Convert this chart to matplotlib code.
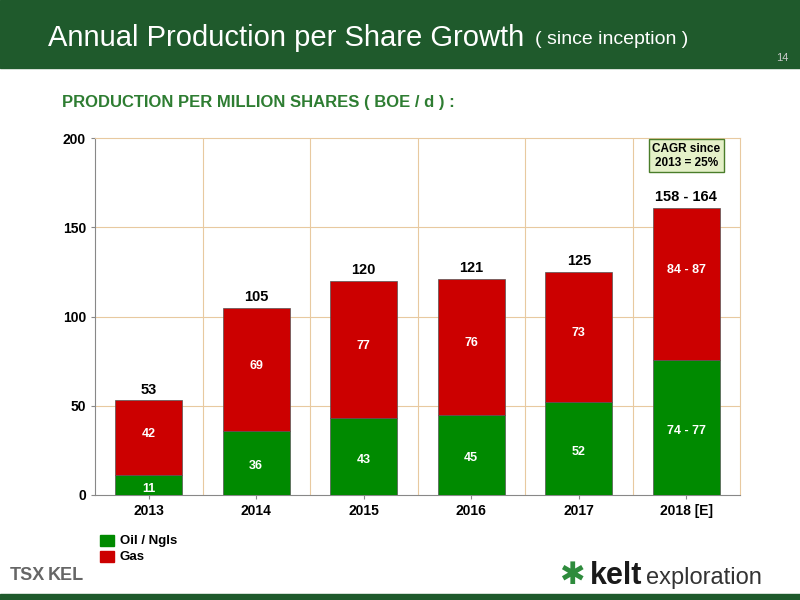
import matplotlib
matplotlib.use("Agg")
import matplotlib.pyplot as plt
from matplotlib.patches import Rectangle

years = ["2013", "2014", "2015", "2016", "2017", "2018 [E]"]
oil = [11, 36, 43, 45, 52, 75.5]
gas = [42, 69, 77, 76, 73, 85.5]
oil_labels = ["11", "36", "43", "45", "52", "74 - 77"]
gas_labels = ["42", "69", "77", "76", "73", "84 - 87"]
tot_labels = ["53", "105", "120", "121", "125", "158 - 164"]

GREEN = "#008a00"
RED = "#cc0000"
plt.rcParams['font.family'] = ['Liberation Sans', 'DejaVu Sans']

fig = plt.figure(figsize=(8, 6), dpi=100)
fig.patch.set_facecolor("white")
fig.add_artist(Rectangle((0, 1 - 68/600), 1, 68/600, transform=fig.transFigure, color="#1f5a2c", zorder=0))
fig.add_artist(Rectangle((0, 0), 1, 6/600, transform=fig.transFigure, color="#1f5a2c", zorder=0))
fig.text(48/800, 1 - 38/600, "Annual Production per Share Growth", color="white", fontsize=21, va="center")
fig.text(535/800, 1 - 40/600, "( since inception )", color="white", fontsize=14, va="center")
fig.text(788/800, 1 - 58/600, "14", color="#cccccc", fontsize=8, ha="right", va="center")
fig.text(62/800, 1 - 102/600, "PRODUCTION PER MILLION SHARES ( BOE / d ) :", color="#2e7d32",
         fontsize=12, fontweight="bold", va="center")

ax = fig.add_axes([95/800, 1 - 495/600, 645/800, 357/600])
x = range(len(years))
ax.bar(x, oil, width=0.62, color=GREEN, edgecolor="#555555", linewidth=0.5, zorder=3)
ax.bar(x, gas, bottom=oil, width=0.62, color=RED, edgecolor="#555555", linewidth=0.5, zorder=3)
for i in x:
    ax.text(i, oil[i] / 2 - 2, oil_labels[i], color="white", ha="center", va="center", fontsize=9, fontweight="bold", zorder=4)
    ax.text(i, oil[i] + gas[i] / 2 + 2 if i < 5 else oil[i] + gas[i] / 2 + 8, gas_labels[i], color="white",
            ha="center", va="center", fontsize=9, fontweight="bold", zorder=4)
    ax.text(i, oil[i] + gas[i] + 2, tot_labels[i], color="black", ha="center", va="bottom", fontsize=10.5, fontweight="bold")
ax.set_xlim(-0.5, 5.5)
ax.set_ylim(0, 200)
ax.set_yticks([0, 50, 100, 150, 200])
ax.set_xticks(list(x))
ax.set_xticklabels(years)
for lab in ax.get_xticklabels() + ax.get_yticklabels():
    lab.set_fontweight("bold")
    lab.set_fontsize(10)
ax.tick_params(length=3, color="#888888")
for xv in [0.5, 1.5, 2.5, 3.5, 4.5]:
    ax.axvline(xv, color="#e8c9a0", linewidth=0.8, zorder=1)
for yv in [50, 100, 150]:
    ax.axhline(yv, color="#e8c9a0", linewidth=0.8, zorder=1)
for s in ["top", "right"]:
    ax.spines[s].set_color("#e8c9a0")
for s in ["left", "bottom"]:
    ax.spines[s].set_color("#888888")
ax.text(5, 190, "CAGR since\n2013 = 25%", ha="center", va="center", fontsize=8.5, fontweight="bold",
        bbox=dict(boxstyle="square,pad=0.3", facecolor="#e4f0c8", edgecolor="#4a7d2a"))

fig.add_artist(Rectangle((100/800, 1 - 546/600), 14/800, 11/600, transform=fig.transFigure, color=GREEN))
fig.add_artist(Rectangle((100/800, 1 - 562/600), 14/800, 11/600, transform=fig.transFigure, color=RED))
fig.text(120/800, 1 - 541/600, "Oil / Ngls", fontsize=9.5, fontweight="bold", va="center")
fig.text(120/800, 1 - 557/600, "Gas", fontsize=9.5, fontweight="bold", va="center")

fig.text(10/800, 1 - 576/600, "TSX", color="#666666", fontsize=13, fontweight="bold", va="center")
fig.text(48/800, 1 - 576/600, "KEL", color="#666666", fontsize=13, fontweight="bold", va="center")
fig.text(590/800, 1 - 576/600, "kelt", color="#1a1a1a", fontsize=22, fontweight="bold", va="center")
fig.text(646/800, 1 - 578/600, "exploration", color="#333333", fontsize=17, va="center")
fig.text(572/800, 1 - 576/600, "✱", color="#2e8b3c", fontsize=22, va="center", ha="center", family=["DejaVu Sans"])

fig.savefig("out.png", dpi=100)
